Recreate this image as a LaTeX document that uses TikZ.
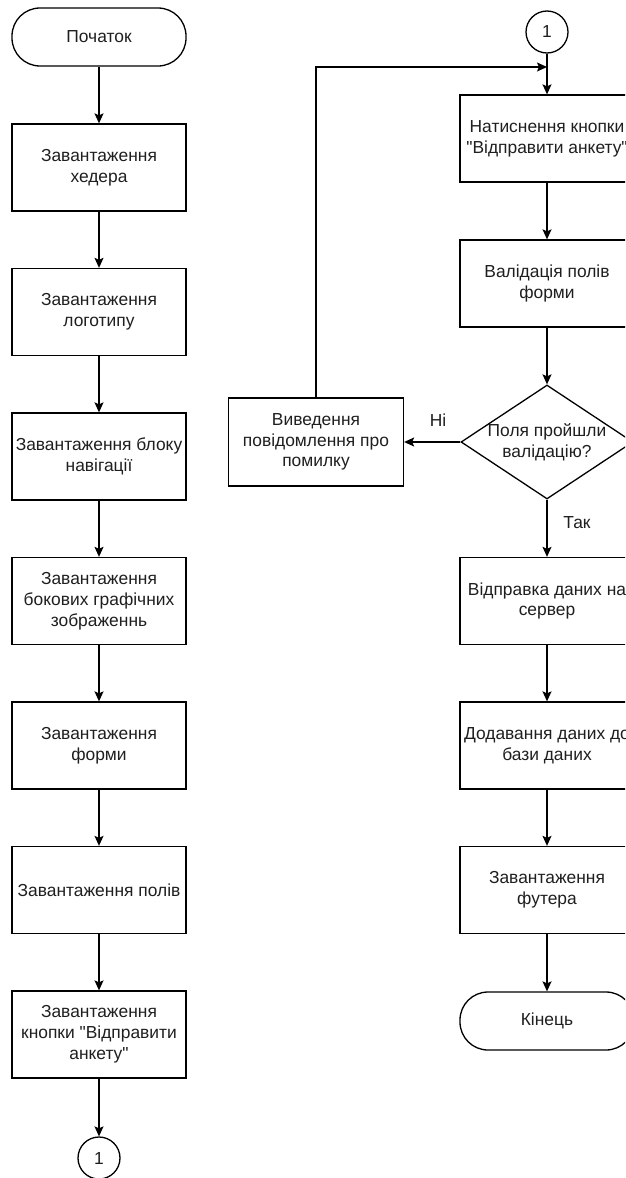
\documentclass[tikz,border=0pt]{standalone}
\usepackage{fontspec}
\setmainfont{Liberation Sans}[Ligatures=TeXOff]
\usetikzlibrary{shapes.geometric,arrows.meta}
\tikzset{
  base/.style={draw=black, line width=1.3pt, align=center, inner sep=0pt,
    font=\fontsize{17.4pt}{20.8pt}\selectfont, text=black!88},
  procbox/.style={base, rectangle, minimum width=174pt, minimum height=87pt},
  termbox/.style={base, rectangle, rounded corners=28pt, minimum width=174pt, minimum height=58pt},
  conn/.style={base, circle, minimum size=42pt},
  dia/.style={base, diamond, minimum width=172pt, minimum height=114pt},
  plain/.style={align=center, inner sep=0pt, font=\fontsize{17.4pt}{20.8pt}\selectfont, text=black!88},
  arr/.style={line width=1.3pt, -{Stealth[length=10pt,width=9pt,inset=2pt]}},
  ln/.style={line width=1.3pt}
}
\begin{document}
\begin{tikzpicture}[x=1pt,y=-1pt]
\clip (0,0) rectangle (625,1178);
\fill[white] (0,0) rectangle (625,1178);
% left column
\node (start) [termbox] at (99,37) {Початок};
\node (b1) [procbox] at (99,167.5) {Завантаження\\хедера};
\node (b2) [procbox] at (99,312) {Завантаження\\логотипу};
\node (b3) [procbox] at (99,456.5) {Завантаження блоку\\навігації};
\node (b4) [procbox] at (99,601) {Завантаження\\бокових графічних\\зображеннь};
\node (b5) [procbox] at (99,745.5) {Завантаження\\форми};
\node (b6) [procbox] at (99,890) {Завантаження полів};
\node (b7) [procbox] at (99,1034.5) {Завантаження\\кнопки "Відправити\\анкету"};
\node (c1) [conn] at (99,1158) {1};
\draw[arr] (start) -- (b1);
\draw[arr] (b1) -- (b2);
\draw[arr] (b2) -- (b3);
\draw[arr] (b3) -- (b4);
\draw[arr] (b4) -- (b5);
\draw[arr] (b5) -- (b6);
\draw[arr] (b6) -- (b7);
\draw[arr] (b7) -- (c1);
% right column
\node (c2) [conn] at (547,32) {1};
\node (r1) [procbox] at (547,138.5) {Натиснення кнопки\\"Відправити анкету"};
\node (r2) [procbox] at (547,283.5) {Валідація полів\\форми};
\node (d) [dia] at (547,442) {};
\node (dt) [plain] at (547,442) {Поля пройшли\\валідацію?};
\node (err) [procbox, minimum width=175pt, minimum height=88pt] at (316,442) {Виведення\\повідомлення про\\помилку};
\node (r3) [procbox] at (547,601) {Відправка даних на\\сервер};
\node (r4) [procbox] at (547,745.5) {Додавання даних до\\бази даних};
\node (r5) [procbox] at (547,890) {Завантаження\\футера};
\node (fin) [termbox] at (547,1021) {Кінець};
\coordinate (j) at (547,67);
\draw[arr] (c2) -- (r1);
\draw[arr] (r1) -- (r2);
\draw[arr] (r2) -- (d);
\draw[arr] (d.west) -- (err.east);
\draw[arr] (d.south) -- (r3);
\draw[arr] (r3) -- (r4);
\draw[arr] (r4) -- (r5);
\draw[arr] (r5) -- (fin);
\draw[arr] (err.north) |- (j);
\node (ni) [plain] at (438,420) {Ні};
\node (tak) [plain] at (577,523) {Так};
\end{tikzpicture}
\end{document}
